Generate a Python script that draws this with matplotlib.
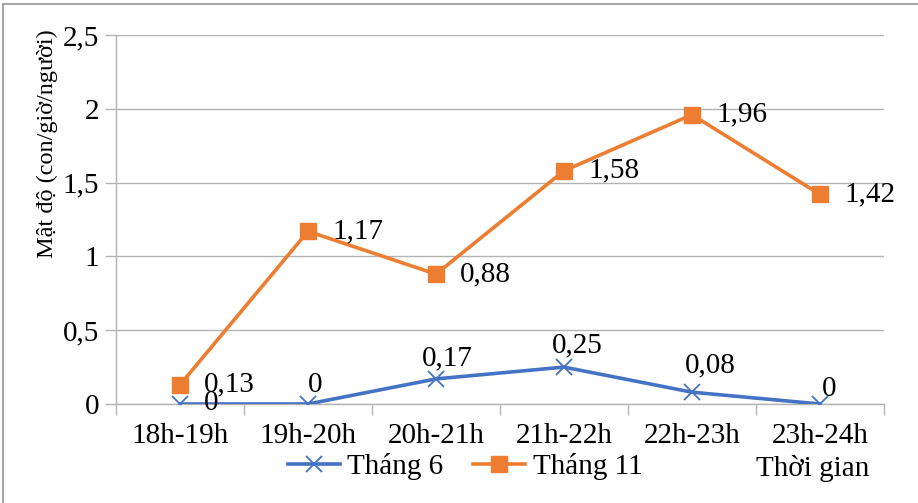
import matplotlib
matplotlib.use("Agg")
import matplotlib.pyplot as plt
from matplotlib.lines import Line2D
from matplotlib.ticker import FixedLocator, FuncFormatter

# Data
categories = ["18h-19h", "19h-20h", "20h-21h", "21h-22h", "22h-23h", "23h-24h"]
thang6 = [0, 0, 0.17, 0.25, 0.08, 0]
thang11 = [0.13, 1.17, 0.88, 1.58, 1.96, 1.42]
series_names = ["Tháng 6", "Tháng 11"]
y_label = "Mật độ (con/giờ/người)"
x_label = "Thời gian"
y_ticks = [0, 0.5, 1, 1.5, 2, 2.5]

BLUE = "#4472C4"
ORANGE = "#ED7D31"
GRID = "#B3B3B3"

plt.rcParams["font.family"] = ["Liberation Serif", "DejaVu Serif"]
FS = 21

fig = plt.figure(figsize=(9.18, 5.03), dpi=100)
W, H = 918, 503
ax = fig.add_axes([116 / W, 1 - 404 / H, (884 - 116) / W, (404 - 35) / H])

x = list(range(len(categories)))
ax.plot(x, thang6, color=BLUE, lw=2.6, marker="x", ms=12, mew=1.3,
        mec=BLUE, label=series_names[0], zorder=3)
ax.plot(x, thang11, color=ORANGE, lw=2.6, marker="s", ms=11,
        mec=ORANGE, mfc=ORANGE, label=series_names[1], zorder=4)

ax.set_xlim(-0.5, len(categories) - 0.5)
ax.set_ylim(0, 2.5)


def fmt(v):
    s = f"{v:g}"
    return s.replace(".", ",")


ax.yaxis.set_major_locator(FixedLocator(y_ticks))
ax.yaxis.set_major_formatter(FuncFormatter(lambda v, p: fmt(v)))
ax.set_xticks(x)
ax.set_xticklabels(categories)
ax.xaxis.set_minor_locator(FixedLocator([i - 0.5 for i in range(len(categories) + 1)]))
ax.tick_params(axis="x", which="major", length=0, pad=14, labelsize=FS)
ax.tick_params(axis="x", which="minor", length=8, width=1, color=GRID, direction="out")
ax.tick_params(axis="y", which="major", length=8, width=1, color=GRID,
               direction="out", pad=4, labelsize=FS)

ax.grid(axis="y", color=GRID, lw=1)
for s in ["top", "right"]:
    ax.spines[s].set_visible(False)
for s in ["left", "bottom"]:
    ax.spines[s].set_color(GRID)
    ax.spines[s].set_linewidth(1)

fig.text(47 / W, 1 - 144 / H, y_label, rotation=90, ha="center", va="center",
         fontsize=17.5)

# Value labels
blue_off = [(31, 1), (7, 19), (11, 21), (13, 22), (18, 27), (9, 15)]
for xi, v, (dx, dy) in zip(x, thang6, blue_off):
    ax.annotate(fmt(v), (xi, v), xytext=(dx, dy), textcoords="offset pixels",
                ha="center", va="center", fontsize=FS, zorder=5)
for xi, v in zip(x, thang11):
    ax.annotate(fmt(v), (xi, v), xytext=(24, 0), textcoords="offset pixels",
                ha="left", va="center", fontsize=FS, zorder=5)

leg = fig.legend(loc="center", bbox_to_anchor=(465 / W, 1 - 467 / H), ncol=2,
                 frameon=False, fontsize=FS, handlelength=1.8,
                 columnspacing=1.0, handletextpad=0.25, borderaxespad=0,
                 borderpad=0)

fig.text(813 / W, 1 - 469 / H, x_label, ha="center", va="center", fontsize=FS)

# Outer frame
fig.add_artist(Line2D([3 / W, 1], [1 - 4 / H, 1 - 4 / H], color="#A6A6A6", lw=1.5,
                      transform=fig.transFigure))
fig.add_artist(Line2D([3 / W, 3 / W], [0, 1 - 4 / H], color="#A6A6A6", lw=1.5,
                      transform=fig.transFigure))

fig.savefig("out.png", dpi=100)
